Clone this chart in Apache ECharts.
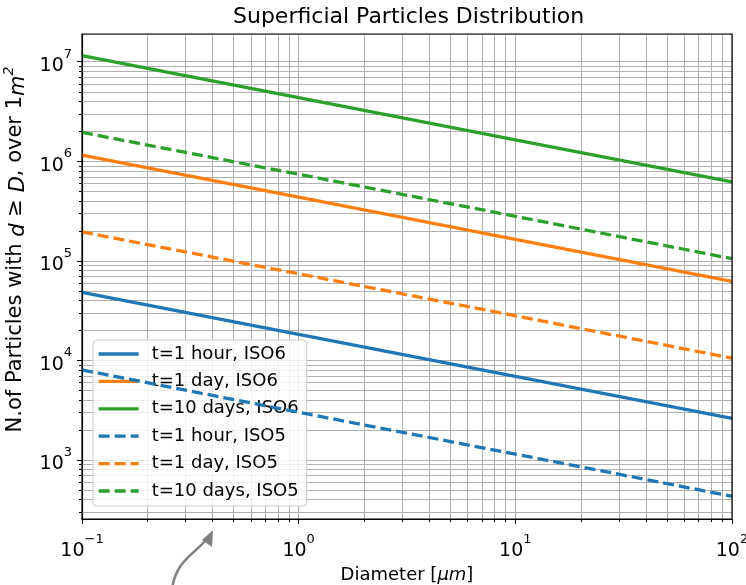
<!DOCTYPE html>
<html>
<head>
<meta charset="utf-8">
<script src="https://cdn.jsdelivr.net/npm/echarts@6/dist/echarts.min.js"></script>
<style>html,body{margin:0;padding:0;background:#fff}#c{width:746px;height:585px}</style>
</head>
<body>
<div id="c"></div>
<script>
var diameters = [0.1, 1, 10, 100];
var hourISO6 = [4.8e4, 1.82e4, 6.9e3, 2.6e3];
var dayISO6 = [1.15e6, 4.35e5, 1.64e5, 6.2e4];
var tenDaysISO6 = [1.15e7, 4.35e6, 1.64e6, 6.2e5];
var hourISO5 = [8.0e3, 3.0e3, 1.14e3, 4.3e2];
var dayISO5 = [1.95e5, 7.4e4, 2.8e4, 1.05e4];
var tenDaysISO5 = [1.95e6, 7.4e5, 2.8e5, 1.05e5];
var seriesNames = ['t=1 hour, ISO6', 't=1 day, ISO6', 't=10 days, ISO6', 't=1 hour, ISO5', 't=1 day, ISO5', 't=10 days, ISO5'];
var xMinorTicks = [0.2,0.3,0.4,0.5,0.6,0.7,0.8,0.9,2,3,4,5,6,7,8,9,20,30,40,50,60,70,80,90];
var yMinorTicks = [300,400,500,600,700,800,900,2e3,3e3,4e3,5e3,6e3,7e3,8e3,9e3,2e4,3e4,4e4,5e4,6e4,7e4,8e4,9e4,2e5,3e5,4e5,5e5,6e5,7e5,8e5,9e5,2e6,3e6,4e6,5e6,6e6,7e6,8e6,9e6];
var yRange = [254, 1.9e7];
var xRange = [0.1, 100];

var FONT = 'DejaVu Sans';
var GRIDC = '#b0b0b0';
var colors = {blue:'#1f77b4', orange:'#ff7f0e', green:'#2ca02c'};

function pairs(ys){ return diameters.map(function(x,i){return [x, ys[i]];}); }
function logLabel(v){
  var e = Math.log10(v);
  var r = Math.round(e);
  if (Math.abs(e - r) > 1e-6) return '';
  var s = r < 0 ? '\u2212' + (-r) : '' + r;
  return '{b|10}{s|' + s + '}';
}
var labelRich = {
  b: {fontFamily: FONT, fontSize: 19, color: '#000', lineHeight: 28, verticalAlign: 'bottom'},
  s: {fontFamily: FONT, fontSize: 13, color: '#000', lineHeight: 28, verticalAlign: 'top'}
};

function lineSeries(name, ys, color, dashed){
  return {
    name: name, type: 'line', data: pairs(ys), symbol: 'circle', showSymbol: false,
    z: 5, silent: true,
    lineStyle: {color: color, width: 3.3, type: dashed ? [11,5] : 'solid'},
    itemStyle: {color: color}
  };
}

var xGridSeries = {
  type: 'custom', silent: true, z: 1, clip: false,
  data: xMinorTicks.map(function(v){return [v, 1000];}),
  encode: {x: 0, y: 1},
  renderItem: function(params, api){
    var p = api.coord([api.value(0), 1000]);
    var cs = params.coordSys;
    var x = Math.round(p[0]) + 0.5;
    return {type: 'group', children: [
      {type: 'line', shape: {x1: x, y1: cs.y, x2: x, y2: cs.y + cs.height}, style: {stroke: GRIDC, lineWidth: 1}},
      {type: 'line', shape: {x1: x, y1: cs.y + cs.height, x2: x, y2: cs.y + cs.height + 3}, style: {stroke: '#000', lineWidth: 1}}
    ]};
  }
};
var yGridSeries = {
  type: 'custom', silent: true, z: 1, clip: false,
  data: yMinorTicks.map(function(v){return [1, v];}),
  encode: {x: 0, y: 1},
  renderItem: function(params, api){
    var p = api.coord([1, api.value(1)]);
    var cs = params.coordSys;
    var y = Math.round(p[1]) + 0.5;
    return {type: 'group', children: [
      {type: 'line', shape: {x1: cs.x, y1: y, x2: cs.x + cs.width, y2: y}, style: {stroke: GRIDC, lineWidth: 1}},
      {type: 'line', shape: {x1: cs.x - 3, y1: y, x2: cs.x, y2: y}, style: {stroke: '#000', lineWidth: 1}}
    ]};
  }
};

var chart = echarts.init(document.getElementById('c'), null, {renderer: 'canvas'});
chart.setOption({
  animation: false,
  backgroundColor: '#fff',
  textStyle: {fontFamily: FONT},
  title: {
    text: 'Superficial Particles Distribution',
    left: 233, top: 6, padding: 0,
    textStyle: {fontFamily: FONT, fontSize: 22, fontWeight: 'normal', color: '#000'}
  },
  grid: {left: 82, right: 14, top: 34, bottom: 66, containLabel: false, outerBoundsMode: 'none', show: true, borderColor: '#000', borderWidth: 1.2, backgroundColor: 'transparent', z: 10},
  legend: {
    orient: 'vertical', left: 93, top: 340,
    data: seriesNames,
    itemWidth: 40, itemHeight: 20, itemGap: 9.4,
    padding: [5, 8, 6, 4],
    backgroundColor: 'rgba(255,255,255,0.8)',
    borderColor: '#cccccc', borderWidth: 1, borderRadius: 4,
    itemStyle: {opacity: 0},
    lineStyle: {width: 3.3},
    formatter: function(name){ return '{a|' + name + '}'; },
    textStyle: {fontFamily: FONT, fontSize: 18, color: '#000', rich: {a: {fontFamily: FONT, fontSize: 18, color: '#000', padding: [0, 0, 0, 8]}}},
    selectedMode: false
  },
  xAxis: {
    type: 'log', logBase: 10, min: xRange[0], max: xRange[1], interval: 1,
    name: 'Diameter [{i|\u03bcm}]', nameLocation: 'middle', nameGap: 39,
    nameTextStyle: {fontFamily: FONT, fontSize: 18, color: '#000', rich: {i: {fontFamily: FONT, fontSize: 18, fontStyle: 'italic', color: '#000'}}},
    axisLine: {show: true, lineStyle: {color: '#000', width: 1.2}},
    axisTick: {show: true, inside: false, length: 5, lineStyle: {color: '#000', width: 1}},
    axisLabel: {formatter: logLabel, rich: labelRich, margin: 14, showMinLabel: true, showMaxLabel: true},
    splitLine: {show: true, lineStyle: {color: GRIDC, width: 1}}
  },
  yAxis: {
    type: 'log', logBase: 10, min: yRange[0], max: yRange[1], splitNumber: 5,
    name: 'N.of Particles with {i|d} \u2265 {i|D}, over 1{i|m}{s|2}', nameLocation: 'middle', nameGap: 46, nameRotate: 90,
    nameTextStyle: {fontFamily: FONT, fontSize: 21, color: '#000', lineHeight: 26, padding: [0, 0, 0, 54], rich: {
      i: {fontFamily: FONT, fontSize: 21, fontStyle: 'italic', color: '#000', lineHeight: 26, verticalAlign: 'bottom'},
      s: {fontFamily: FONT, fontSize: 14, fontStyle: 'italic', color: '#000', lineHeight: 26, verticalAlign: 'top'}
    }},
    axisLine: {show: true, lineStyle: {color: '#000', width: 1.2}},
    axisTick: {show: true, inside: false, length: 5, lineStyle: {color: '#000', width: 1}},
    axisLabel: {formatter: logLabel, rich: labelRich, margin: 10, showMinLabel: false, showMaxLabel: false},
    splitLine: {show: true, lineStyle: {color: GRIDC, width: 1}}
  },
  series: [
    xGridSeries, yGridSeries,
    lineSeries(seriesNames[0], hourISO6, colors.blue, false),
    lineSeries(seriesNames[1], dayISO6, colors.orange, false),
    lineSeries(seriesNames[2], tenDaysISO6, colors.green, false),
    lineSeries(seriesNames[3], hourISO5, colors.blue, true),
    lineSeries(seriesNames[4], dayISO5, colors.orange, true),
    lineSeries(seriesNames[5], tenDaysISO5, colors.green, true)
  ],
  graphic: [
    {type: 'bezierCurve', silent: true, shape: {x1: 172, y1: 590, cpx1: 175, cpy1: 562, cpx2: 193, cpy2: 555, x2: 206, y2: 540}, style: {stroke: '#808080', lineWidth: 2.5, fill: null}},
    {type: 'polygon', silent: true, shape: {points: [[213, 530], [202, 540], [212, 547]]}, style: {fill: '#808080'}}
  ]
});
</script>
</body>
</html>
